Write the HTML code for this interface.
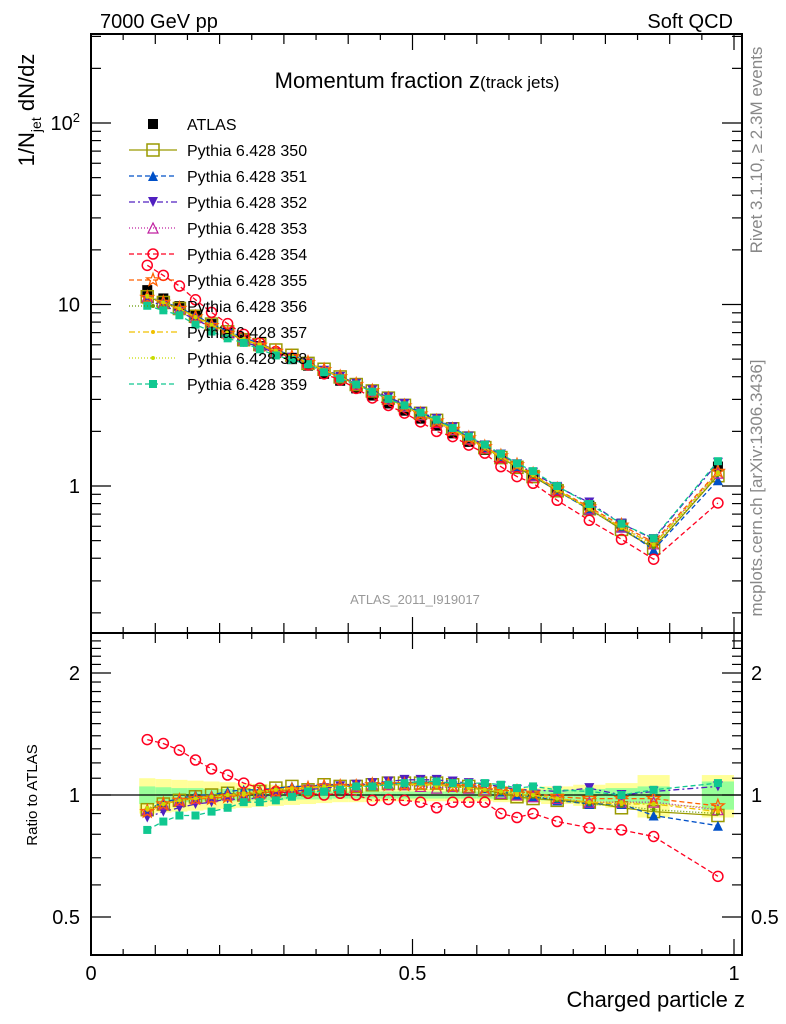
<!DOCTYPE html>
<html><head><meta charset="utf-8">
<style>
html,body{margin:0;padding:0;background:#fff;}
svg{display:block;font-family:"Liberation Sans",sans-serif;}
</style></head>
<body>
<svg id="chart" width="786" height="1024" viewBox="0 0 786 1024" xmlns="http://www.w3.org/2000/svg">
<text x="100" y="28" font-size="20">7000 GeV pp</text>
<text x="733" y="28" font-size="20" text-anchor="end">Soft QCD</text>
<text x="417" y="88" font-size="22" text-anchor="middle">Momentum fraction z<tspan font-size="17">(track jets)</tspan></text>
<text transform="translate(762,150) rotate(-90)" font-size="17" fill="#888" text-anchor="middle">Rivet 3.1.10, ≥ 2.3M events</text>
<text transform="translate(762,488) rotate(-90)" font-size="17" fill="#888" text-anchor="middle">mcplots.cern.ch [arXiv:1306.3436]</text>
<text transform="translate(34,110) rotate(-90)" font-size="22" text-anchor="middle">1/N<tspan font-size="14" dy="7">jet</tspan><tspan dy="-7"> dN/dz</tspan></text>
<text transform="translate(37,795) rotate(-90)" font-size="15" text-anchor="middle">Ratio to ATLAS</text>
<text x="745" y="1007" font-size="22" text-anchor="end">Charged particle z</text>
<text x="415" y="604" font-size="13" fill="#999" text-anchor="middle">ATLAS_2011_I919017</text>
<g id="bands"></g>
<g id="series"></g>
<g id="axes"></g>
<g id="legend"></g>
</svg>
<script>
const zVals = [0.0875,0.1125,0.1375,0.1625,0.1875,0.2125,0.2375,0.2625,0.2875,0.3125,0.3375,0.3625,0.3875,0.4125,0.4375,0.4625,0.4875,0.5125,0.5375,0.5625,0.5875,0.6125,0.6375,0.6625,0.6875,0.725,0.775,0.825,0.875,0.975];
const binLo = [0.075,0.1,0.125,0.15,0.175,0.2,0.225,0.25,0.275,0.3,0.325,0.35,0.375,0.4,0.425,0.45,0.475,0.5,0.525,0.55,0.575,0.6,0.625,0.65,0.675,0.7,0.75,0.8,0.85,0.95];
const binHi = [0.1,0.125,0.15,0.175,0.2,0.225,0.25,0.275,0.3,0.325,0.35,0.375,0.4,0.425,0.45,0.475,0.5,0.525,0.55,0.575,0.6,0.625,0.65,0.675,0.7,0.75,0.8,0.85,0.9,1.0];
const atlasVals = [12,10.8,9.8,8.7,7.8,7.0,6.4,5.9,5.4,5.0,4.6,4.15,3.8,3.45,3.15,2.85,2.6,2.35,2.15,1.95,1.75,1.58,1.42,1.28,1.15,0.97,0.78,0.62,0.5,1.28];
const errTot = [0.1,0.095,0.09,0.085,0.08,0.075,0.07,0.065,0.06,0.055,0.05,0.045,0.04,0.04,0.04,0.035,0.035,0.035,0.035,0.035,0.035,0.035,0.04,0.04,0.04,0.05,0.06,0.07,0.12,0.12];
const errStat = [0.05,0.045,0.04,0.04,0.035,0.035,0.03,0.03,0.03,0.025,0.025,0.025,0.02,0.02,0.02,0.02,0.02,0.02,0.02,0.02,0.02,0.02,0.025,0.025,0.025,0.03,0.035,0.04,0.05,0.08];
const r350 = [0.92,0.95,0.97,0.99,1.0,1.01,1.0,1.02,1.04,1.05,1.03,1.06,1.05,1.05,1.06,1.07,1.07,1.07,1.07,1.06,1.05,1.03,1.01,0.99,0.98,0.97,0.96,0.93,0.91,0.89];
const r351 = [0.92,0.96,0.98,1.0,1.0,1.02,1.03,1.03,1.04,1.05,1.05,1.06,1.06,1.06,1.06,1.07,1.07,1.08,1.07,1.07,1.06,1.04,1.02,1.0,0.99,0.97,0.95,0.95,0.89,0.84];
const r352 = [0.88,0.91,0.93,0.95,0.96,0.98,0.97,0.99,1.0,1.02,1.03,1.04,1.05,1.06,1.07,1.08,1.09,1.09,1.09,1.08,1.07,1.06,1.05,1.03,1.03,1.02,1.04,1.0,1.02,1.05];
const r353 = [0.92,0.95,0.97,0.98,0.99,1.0,1.0,1.01,1.02,1.03,1.04,1.05,1.05,1.05,1.06,1.06,1.06,1.05,1.04,1.05,1.04,1.03,1.01,1.0,0.99,0.98,0.96,0.96,0.96,0.92];
const r354 = [1.37,1.34,1.29,1.22,1.16,1.12,1.07,1.04,1.02,1.01,1.01,1.0,1.01,1.0,0.97,0.975,0.97,0.96,0.93,0.96,0.96,0.96,0.9,0.88,0.9,0.86,0.83,0.82,0.79,0.63];
const r355 = [0.91,0.95,0.97,0.98,0.98,0.99,1.0,1.01,1.02,1.03,1.04,1.05,1.05,1.05,1.06,1.06,1.06,1.06,1.06,1.05,1.05,1.04,1.03,1.02,1.01,0.99,0.98,0.98,0.98,0.94];
const r356 = [0.92,0.95,0.97,0.98,0.99,1.0,1.0,1.01,1.03,1.04,1.04,1.05,1.05,1.05,1.06,1.06,1.06,1.06,1.06,1.05,1.04,1.03,1.01,1.0,0.99,0.97,0.95,0.94,0.92,0.9];
const r357 = [0.92,0.95,0.97,0.98,0.99,1.0,1.0,1.02,1.03,1.04,1.04,1.05,1.05,1.05,1.06,1.06,1.06,1.06,1.06,1.05,1.04,1.03,1.02,1.0,1.0,0.98,0.96,0.95,0.95,0.91];
const r358 = [0.93,0.95,0.97,0.98,0.99,1.0,1.01,1.02,1.03,1.03,1.04,1.05,1.05,1.05,1.05,1.06,1.06,1.06,1.05,1.05,1.04,1.03,1.02,1.01,1.0,0.98,0.96,0.96,0.95,0.93];
const r359 = [0.82,0.86,0.89,0.89,0.91,0.93,0.96,0.96,0.97,0.99,1.02,1.02,1.03,1.05,1.05,1.06,1.07,1.08,1.08,1.07,1.07,1.07,1.06,1.04,1.05,1.03,1.02,1.0,1.03,1.07];
const seriesNames = ["350","351","352","353","354","355","356","357","358","359"];
const seriesRatios = [r350,r351,r352,r353,r354,r355,r356,r357,r358,r359];
const mainTicks = [1,10,100];

const NS="http://www.w3.org/2000/svg";
const X0=91, X1=742;
const xS = z => 91 + 643*z;
const yMain = v => 486 - 181.5*Math.log10(v);
const yRat = r => 795 - 122*Math.log2(r);
const styles = [
 {c:"#9a9a00",m:"osq",d:"",s:6},
 {c:"#0050c8",m:"tri",d:"5,3",s:5},
 {c:"#5020c0",m:"tri-down",d:"6,3,2,3",s:5},
 {c:"#c020a0",m:"otri",d:"1,2",s:5},
 {c:"#ff0020",m:"ocirc",d:"5,3",s:5},
 {c:"#ff6000",m:"ostar",d:"5,3",s:6},
 {c:"#669900",m:"dot",d:"1,2",s:2},
 {c:"#f0c000",m:"dot",d:"6,3,2,3",s:2},
 {c:"#c8dc00",m:"dot",d:"1,2",s:2},
 {c:"#10c890",m:"sq",d:"5,3",s:4}
];
function mk(tag, attrs, parent){const e=document.createElementNS(NS,tag);for(const k in attrs)e.setAttribute(k,attrs[k]);parent.appendChild(e);return e;}
function marker(type,x,y,c,parent,s){
  s=s||5;let e;
  if(type==="sq"||type==="black") e=mk("rect",{x:x-s,y:y-s,width:2*s,height:2*s,fill:c},parent);
  else if(type==="osq") e=mk("rect",{x:x-s,y:y-s,width:2*s,height:2*s,fill:"none",stroke:c,"stroke-width":1.5},parent);
  else if(type==="tri") e=mk("polygon",{points:`${x},${y-s} ${x-s},${y+s} ${x+s},${y+s}`,fill:c},parent);
  else if(type==="tri-down") e=mk("polygon",{points:`${x},${y+s} ${x-s},${y-s} ${x+s},${y-s}`,fill:c},parent);
  else if(type==="otri") e=mk("polygon",{points:`${x},${y-s} ${x-s},${y+s} ${x+s},${y+s}`,fill:"none",stroke:c,"stroke-width":1.2},parent);
  else if(type==="ocirc") e=mk("circle",{cx:x,cy:y,r:s,fill:"none",stroke:c,"stroke-width":1.5},parent);
  else if(type==="ostar"){let p=[];for(let i=0;i<10;i++){const a=-Math.PI/2+i*Math.PI/5,r=i%2?s*0.45:s*1.1;p.push((x+r*Math.cos(a)).toFixed(1)+","+(y+r*Math.sin(a)).toFixed(1));}e=mk("polygon",{points:p.join(" "),fill:"none",stroke:c,"stroke-width":1.3},parent);}
  else e=mk("circle",{cx:x,cy:y,r:s,fill:c},parent);
  return e;
}
const bands=document.getElementById("bands");
for(let i=0;i<zVals.length;i++){
  const b1=mk("rect",{x:xS(binLo[i]),y:yRat(1+errTot[i]),width:xS(binHi[i])-xS(binLo[i]),height:yRat(1-errTot[i])-yRat(1+errTot[i]),fill:"#ffff99"},bands);
  
  
  const b2=mk("rect",{x:xS(binLo[i]),y:yRat(1+errStat[i]),width:xS(binHi[i])-xS(binLo[i]),height:yRat(1-errStat[i])-yRat(1+errStat[i]),fill:"#99ff99"},bands);
  
  
}
const ref=mk("line",{x1:X0,x2:X1,y1:yRat(1),y2:yRat(1),stroke:"#000","stroke-width":1.2},bands);



const sg=document.getElementById("series");
for(let i=0;i<zVals.length;i++){
  const m=marker("black",xS(zVals[i]),yMain(atlasVals[i]),"#000",sg,5);
  
  
}
seriesRatios.forEach((rat,k)=>{
  const st=styles[k];
  const g=mk("g",{},sg);
  
  
  const pm=zVals.map((z,i)=>xS(z).toFixed(1)+","+yMain(atlasVals[i]*rat[i]).toFixed(1)).join(" ");
  const pr=zVals.map((z,i)=>xS(z).toFixed(1)+","+yRat(rat[i]).toFixed(1)).join(" ");
  const l1=mk("polyline",{points:pm,fill:"none",stroke:st.c,"stroke-width":1.3,"stroke-dasharray":st.d},g);
  
  
  const l2=mk("polyline",{points:pr,fill:"none",stroke:st.c,"stroke-width":1.3,"stroke-dasharray":st.d},g);
  
  
  zVals.forEach((z,i)=>{
    const a=marker(st.m,xS(z),yMain(atlasVals[i]*rat[i]),st.c,g,st.s);
    
    
    const b=marker(st.m,xS(z),yRat(rat[i]),st.c,g,st.s);
    
    
  });
});

const ax=document.getElementById("axes");
const f1=mk("rect",{x:X0,y:34,width:X1-X0,height:599,fill:"none",stroke:"#000","stroke-width":2},ax);


const f2=mk("rect",{x:X0,y:633,width:X1-X0,height:322,fill:"none",stroke:"#000","stroke-width":2},ax);


for(let k=0;k<=20;k++){
  const z=k*0.05,x=xS(z);
  const L=(k%10===0)?16:(k%2===0?10:6);
  [[34,1],[633,-1],[633,1],[955,-1]].forEach(([y0,d])=>{
    const t=mk("line",{x1:x,x2:x,y1:y0,y2:y0+d*L,stroke:"#000","stroke-width":1.2},ax);
    
    
  });
}
[["0",0],["0.5",0.5],["1",1]].forEach(([s,z])=>{
  const t=mk("text",{x:xS(z),y:980,"font-size":20,"text-anchor":"middle"},ax);t.textContent=s;
  
  
});
for(let e=-1;e<=2;e++){
  for(let m=1;m<=9;m++){
    const v=m*Math.pow(10,e),y=yMain(v);
    if(y<35||y>632)continue;
    const L=m===1?20:10;
    const a=mk("line",{x1:X0,x2:X0+L,y1:y,y2:y,stroke:"#000","stroke-width":1.2},ax);
    
    
    const b=mk("line",{x1:X1,x2:X1-L,y1:y,y2:y,stroke:"#000","stroke-width":1.2},ax);
    
    
  }
}
mainTicks.forEach(v=>{
  const y=yMain(v);
  const t=mk("text",{x:80,y:y+7,"font-size":20,"text-anchor":"end"},ax);
  if(v===100){t.textContent="10";const sp=mk("tspan",{"font-size":13,dy:-8},t);sp.textContent="2";}
  else t.textContent=String(v);
  
  
});
for(let v=0.4;v<=2.6;v+=0.1){
  const y=yRat(v); if(y<635||y>953)continue;
  const major=[0.5,1,2].some(q=>Math.abs(q-v)<1e-6);
  const L=major?20:10;
  const a=mk("line",{x1:X0,x2:X0+L,y1:y,y2:y,stroke:"#000","stroke-width":1.2},ax);
  
  
  const b=mk("line",{x1:X1,x2:X1-L,y1:y,y2:y,stroke:"#000","stroke-width":1.2},ax);
  
  
}
[["2",2],["1",1],["0.5",0.5]].forEach(([s,v])=>{
  const y=yRat(v);
  const t=mk("text",{x:80,y:y+7,"font-size":20,"text-anchor":"end"},ax);t.textContent=s;
  
  
  const t2=mk("text",{x:751,y:y+7,"font-size":20},ax);t2.textContent=s;
  
  
});

const lg=document.getElementById("legend");
const le0=mk("g",{},lg);


marker("black",153,124,"#000",le0,5);
const tt=mk("text",{x:187,y:130,"font-size":16},le0);tt.textContent="ATLAS";
styles.forEach((st,k)=>{
  const y=150+26*k;
  const g=mk("g",{},lg);
  
  
  mk("line",{x1:129,x2:177,y1:y,y2:y,stroke:st.c,"stroke-width":1.3,"stroke-dasharray":st.d},g);
  marker(st.m,153,y,st.c,g,st.s);
  const t=mk("text",{x:187,y:y+6,"font-size":16},g);t.textContent="Pythia 6.428 "+seriesNames[k];
});
</script>
</body></html>
